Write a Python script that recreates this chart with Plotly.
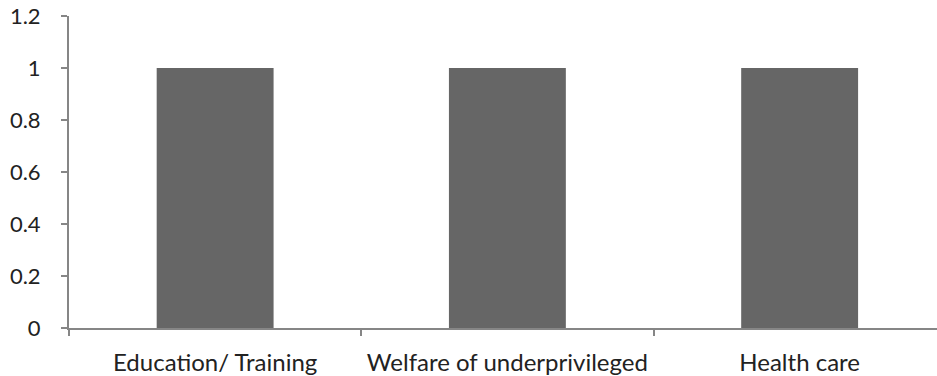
import plotly.graph_objects as go

categories = ["Education/ Training", "Welfare of underprivileged", "Health care"]
values = [1, 1, 1]
y_ticks = [0, 0.2, 0.4, 0.6, 0.8, 1, 1.2]
y_tick_labels = ["0", "0.2", "0.4", "0.6", "0.8", "1", "1.2"]

axis_color = "#868686"
font_family = "Lato"
text_color = "#222222"

fig = go.Figure(
    go.Bar(
        x=categories,
        y=values,
        marker=dict(color="#666666", line=dict(width=0)),
        width=0.4,
    )
)

fig.update_layout(
    width=937,
    height=376,
    margin=dict(l=69, r=0, t=16, b=48),
    paper_bgcolor="white",
    plot_bgcolor="white",
    showlegend=False,
    font=dict(family=font_family, size=22, color=text_color),
)

fig.update_xaxes(
    type="category",
    range=[-0.5, 2.47],
    showline=True,
    linecolor=axis_color,
    linewidth=2,
    ticks="outside",
    tickson="boundaries",
    ticklen=6,
    tickwidth=2,
    tickcolor=axis_color,
    showgrid=False,
    ticklabelstandoff=12,
    tickfont=dict(family=font_family, size=24, color=text_color),
)

fig.update_yaxes(
    range=[0, 1.2],
    tickmode="array",
    tickvals=y_ticks,
    ticktext=y_tick_labels,
    showline=True,
    linecolor=axis_color,
    linewidth=2,
    ticks="outside",
    ticklen=6,
    tickwidth=2,
    tickcolor=axis_color,
    showgrid=False,
    zeroline=False,
    ticklabelstandoff=16,
    tickfont=dict(family=font_family, size=22, color=text_color),
)

fig.write_html("out.html")
